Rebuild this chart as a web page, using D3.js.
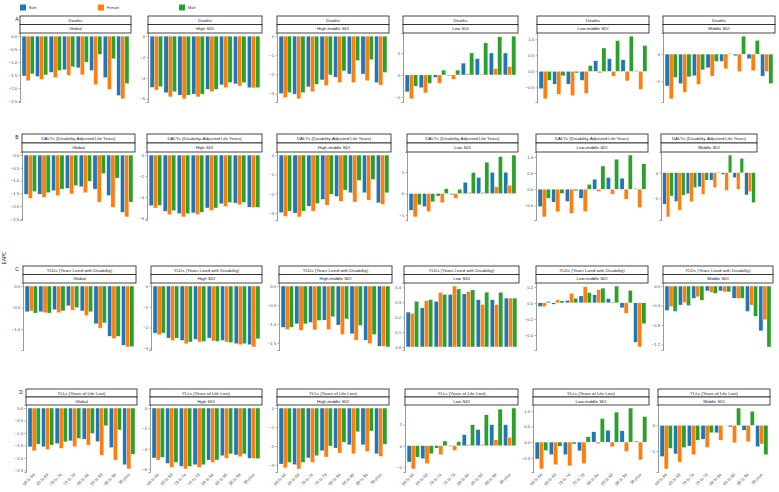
<!doctype html>
<meta charset="utf-8">
<title>EAPC by age group, sex and SDI</title>
<script src="https://cdn.jsdelivr.net/npm/d3@7"></script>
<style>
  body { margin: 0; background: #fff; }
  text { font-family: "Liberation Sans", Arial, sans-serif; }
</style>
<body>
<svg id="chart" width="779" height="492"></svg>
<script>

var ages = ["60 to 64", "65 to 69", "70 to 74", "75 to 79", "80 to 84", "85 to 89", "90 to 94", "95 plus"];
var sexes = ["Both", "Female", "Male"];
var colors = ["#1f77b4", "#ff7f0e", "#2ca02c"];
var regions = ["Global", "High SDI", "High-middle SDI", "Low SDI", "Low-middle SDI", "Middle SDI"];
var measures = ["Deaths", "DALYs (Disability-Adjusted Life Years)", "YLDs (Years Lived with Disability)", "YLLs (Years of Life Lost)"];
var tags = ["A", "B", "C", "D"];

// EAPC values: rows are Both, Female, Male; columns follow ages
var deathsGlobal = [[-1.53,-1.55,-1.39,-1.29,-1.22,-1.32,-1.59,-2.28],[-1.71,-1.66,-1.59,-1.51,-1.49,-1.86,-2.05,-2.41],[-1.45,-1.49,-1.32,-1.18,-1.00,-0.70,-0.87,-1.82]];
var deathsHigh = [[-4.92,-5.44,-5.67,-5.57,-5.11,-4.69,-4.59,-4.95],[-5.18,-5.84,-6.03,-5.84,-5.34,-4.95,-4.79,-4.97],[-4.85,-5.34,-5.67,-5.57,-5.11,-4.46,-4.46,-4.95]];
var deathsHighMid = [[-3.00,-3.03,-2.65,-2.29,-2.15,-1.98,-1.98,-2.43],[-3.21,-3.28,-2.91,-2.59,-2.42,-2.43,-2.33,-2.56],[-2.95,-2.95,-2.52,-2.03,-1.82,-1.27,-1.23,-1.90]];
var deathsLow = [[-0.77,-0.58,-0.11,-0.03,0.54,0.74,1.00,1.00],[-1.09,-0.82,-0.38,-0.20,0.05,0.04,0.29,0.38],[-0.51,-0.38,0.22,0.22,1.00,1.46,1.74,1.77]];
var deathsLowMid = [[-0.54,-0.40,-0.40,-0.28,0.33,0.39,0.36,0.02],[-0.86,-0.72,-0.76,-0.69,-0.05,-0.15,-0.30,-0.56],[-0.28,-0.14,-0.05,0.18,0.73,0.96,1.10,0.81]];
var deathsMiddle = [[-1.19,-1.10,-0.81,-0.51,-0.27,-0.06,-0.17,-0.82],[-1.67,-1.42,-1.13,-0.82,-0.55,-0.65,-0.62,-0.65],[-0.87,-0.85,-0.59,-0.27,0.02,0.67,0.51,-1.10]];

var dalysGlobal = [[-1.53,-1.53,-1.39,-1.30,-1.24,-1.33,-1.58,-2.24],[-1.69,-1.65,-1.58,-1.52,-1.47,-1.84,-2.04,-2.42],[-1.43,-1.47,-1.33,-1.19,-1.02,-0.72,-0.90,-1.84]];
var dalysHigh = [[-4.81,-5.34,-5.56,-5.50,-5.03,-4.63,-4.56,-4.95],[-5.03,-5.66,-5.88,-5.66,-5.25,-4.88,-4.72,-4.97],[-4.78,-5.28,-5.56,-5.44,-5.03,-4.50,-4.50,-4.97]];
var dalysHighMid = [[-2.98,-3.00,-2.64,-2.29,-2.14,-1.95,-1.95,-2.47],[-3.17,-3.20,-2.90,-2.59,-2.40,-2.43,-2.33,-2.55],[-2.90,-2.90,-2.50,-2.03,-1.81,-1.31,-1.26,-1.95]];
var dalysLow = [[-0.77,-0.60,-0.11,-0.05,0.52,0.74,0.98,0.98],[-1.08,-0.83,-0.42,-0.22,0.05,0.05,0.31,0.38],[-0.52,-0.38,0.22,0.20,0.97,1.45,1.71,1.78]];
var dalysLowMid = [[-0.54,-0.40,-0.38,-0.28,0.31,0.36,0.34,0.02],[-0.86,-0.70,-0.75,-0.69,-0.07,-0.15,-0.31,-0.57],[-0.28,-0.13,-0.05,0.15,0.72,0.93,1.06,0.79]];
var dalysMiddle = [[-1.23,-1.13,-0.82,-0.55,-0.29,-0.06,-0.19,-0.87],[-1.73,-1.47,-1.14,-0.84,-0.58,-0.69,-0.65,-0.74],[-0.91,-0.88,-0.58,-0.29,0.02,0.69,0.56,-1.17]];

var yldsGlobal = [[-0.60,-0.60,-0.55,-0.46,-0.58,-0.88,-1.17,-1.38],[-0.58,-0.62,-0.62,-0.56,-0.69,-0.98,-1.22,-1.42],[-0.63,-0.63,-0.58,-0.50,-0.60,-0.86,-1.17,-1.41]];
var yldsHigh = [[-2.27,-2.51,-2.62,-2.57,-2.51,-2.62,-2.78,-2.83],[-2.35,-2.63,-2.79,-2.70,-2.65,-2.70,-2.83,-2.94],[-2.27,-2.51,-2.70,-2.67,-2.67,-2.73,-2.78,-2.55]];
var yldsHighMid = [[-1.09,-1.00,-0.96,-0.90,-1.03,-1.26,-1.43,-1.59],[-1.15,-1.17,-1.16,-1.15,-1.28,-1.43,-1.52,-1.59],[-1.09,-1.00,-0.91,-0.81,-0.87,-1.04,-1.28,-1.61]];
var yldsLow = [[0.234,0.262,0.306,0.352,0.356,0.317,0.317,0.328],[0.225,0.310,0.365,0.409,0.372,0.284,0.284,0.328],[0.306,0.317,0.352,0.389,0.383,0.367,0.367,0.328]];
var yldsLowMid = [[-0.045,-0.016,0.030,0.086,0.100,0.053,-0.061,-0.49],[-0.045,0.037,0.12,0.20,0.163,0.012,-0.13,-0.55],[0.016,0.025,0.057,0.127,0.184,0.21,0.155,-0.26]];
var yldsMiddle = [[-0.50,-0.39,-0.25,-0.10,-0.10,-0.25,-0.52,-0.92],[-0.42,-0.34,-0.22,-0.13,-0.12,-0.25,-0.39,-0.69],[-0.52,-0.40,-0.29,-0.15,-0.12,-0.25,-0.62,-1.25]];

var yllsGlobal = [[-1.56,-1.56,-1.43,-1.32,-1.25,-1.35,-1.59,-2.28],[-1.72,-1.67,-1.62,-1.55,-1.49,-1.90,-2.09,-2.45],[-1.45,-1.49,-1.36,-1.22,-1.02,-0.71,-0.88,-1.86]];
var yllsHigh = [[-4.92,-5.45,-5.74,-5.58,-5.12,-4.69,-4.62,-4.95],[-5.12,-5.84,-6.00,-5.84,-5.35,-4.95,-4.79,-4.97],[-4.85,-5.35,-5.74,-5.58,-5.12,-4.52,-4.52,-4.97]];
var yllsHighMid = [[-2.95,-2.98,-2.63,-2.25,-2.11,-1.94,-1.94,-2.41],[-3.15,-3.21,-2.86,-2.58,-2.37,-2.41,-2.29,-2.55],[-2.86,-2.86,-2.51,-2.00,-1.80,-1.25,-1.21,-1.91]];
var yllsLow = [[-0.77,-0.61,-0.11,-0.03,0.52,0.76,0.99,0.99],[-1.10,-0.85,-0.43,-0.22,0.05,0.05,0.28,0.39],[-0.54,-0.38,0.22,0.19,0.99,1.46,1.73,1.78]];
var yllsLowMid = [[-0.54,-0.40,-0.40,-0.28,0.33,0.38,0.36,0.03],[-0.86,-0.72,-0.76,-0.69,-0.05,-0.15,-0.30,-0.57],[-0.27,-0.13,-0.06,0.17,0.75,0.96,1.09,0.82]];
var yllsMiddle = [[-1.22,-1.12,-0.81,-0.54,-0.29,-0.06,-0.19,-0.83],[-1.71,-1.44,-1.15,-0.86,-0.58,-0.68,-0.64,-0.73],[-0.90,-0.87,-0.58,-0.29,0.01,0.68,0.55,-1.15]];

// y tick labels for each panel
var ticksCommon = [[0,-0.5,-1,-1.5,-2,-2.5],[0,-2,-4,-6],[0,-1,-2,-3],[-1,0,1],[-0.5,0,0.5,1],[-1,0]];
var ticksYlds = [[0,-0.5,-1],[0,-1,-2,-3],[0,-0.5,-1,-1.5],[0,0.1,0.2,0.3,0.4],[-0.4,-0.2,0,0.2],[0,-0.4,-0.8,-1.2]];

var grid = [
  [deathsGlobal, deathsHigh, deathsHighMid, deathsLow, deathsLowMid, deathsMiddle],
  [dalysGlobal, dalysHigh, dalysHighMid, dalysLow, dalysLowMid, dalysMiddle],
  [yldsGlobal, yldsHigh, yldsHighMid, yldsLow, yldsLowMid, yldsMiddle],
  [yllsGlobal, yllsHigh, yllsHighMid, yllsLow, yllsLowMid, yllsMiddle]
];
var tickGrid = [ticksCommon, ticksCommon, ticksYlds, ticksCommon];

// layout: [strip top, plot top, plot bottom] per row, and [left, right] per panel
var rowBoxes = [[16, 33, 102], [134, 152, 220], [266, 283, 350], [389, 405, 472]];
var colEdges = [
  [[20,131],[148,262],[277,389],[403,518],[537,649],[663,775]],
  [[22,135],[147,262],[277,391],[407,518],[536,648],[661,757]],
  [[23,136],[151,262],[279,392],[404,519],[536,648],[663,773]],
  [[26,137],[150,262],[277,389],[405,518],[533,649],[658,770]]
];

var svg = d3.select("#chart");

// legend
var legend = svg.append("g").attr("class", "legend");
var legendX = [20, 98, 179];
sexes.forEach(function(s, i) {
  legend.append("rect").attr("x", legendX[i]).attr("y", 4.5).attr("width", 6).attr("height", 6).attr("fill", colors[i]);
  legend.append("text").attr("x", legendX[i] + 9).attr("y", 9).attr("font-size", 3.6).attr("fill", "#333").text(s);
});

// y title
svg.append("text")
  .attr("transform", "translate(6,258) rotate(-90)")
  .attr("text-anchor", "middle")
  .attr("font-size", 4.5)
  .attr("fill", "#222")
  .text("EAPC");

grid.forEach(function(row, r) {
  var box = rowBoxes[r];
  var stripMid = box[0] + (box[1] - box[0]) / 2;

  svg.append("text")
    .attr("x", r == 3 ? 21 : 17).attr("y", box[0] + 5)
    .attr("text-anchor", "middle")
    .attr("font-size", 5)
    .attr("fill", "#222")
    .text(tags[r]);

  row.forEach(function(vals, c) {
    var left = colEdges[r][c][0], right = colEdges[r][c][1];
    var g = svg.append("g");

    // strips
    g.append("rect").attr("x", left).attr("y", box[0]).attr("width", right - left).attr("height", stripMid - box[0])
      .attr("fill", "#fff").attr("stroke", "#1a1a1a").attr("stroke-width", 0.8);
    g.append("rect").attr("x", left).attr("y", stripMid).attr("width", right - left).attr("height", box[1] - stripMid)
      .attr("fill", "#fff").attr("stroke", "#1a1a1a").attr("stroke-width", 0.8);
    g.append("text").attr("x", (left + right) / 2).attr("y", (box[0] + stripMid) / 2 + 1.6)
      .attr("text-anchor", "middle").attr("font-size", 4.4).attr("fill", "#1a1a1a").text(measures[r]);
    g.append("text").attr("x", (left + right) / 2).attr("y", (stripMid + box[1]) / 2 + 1.6)
      .attr("text-anchor", "middle").attr("font-size", 4.4).attr("fill", "#1a1a1a").text(regions[c]);

    // scales
    var all = d3.merge(vals).concat([0]);
    var lo = d3.min(all), hi = d3.max(all), pad = (hi - lo) * 0.05;
    var y = d3.scaleLinear().domain([lo - pad, hi + pad]).range([box[2], box[1]]);
    var x0 = d3.scaleBand().domain(ages).range([left, right]).paddingInner(0.1).paddingOuter(0.15);
    var x1 = d3.scaleBand().domain(sexes).range([0, x0.bandwidth()]);

    // bars
    sexes.forEach(function(s, k) {
      g.selectAll(null)
        .data(vals[k])
        .enter().append("rect")
        .attr("x", function(d, i) { return x0(ages[i]) + x1(s); })
        .attr("width", x1.bandwidth())
        .attr("y", function(d) { return y(Math.max(0, d)); })
        .attr("height", function(d) { return Math.abs(y(d) - y(0)); })
        .attr("fill", colors[k])
        .attr("stroke", "#fff")
        .attr("stroke-width", 0.3);
    });

    // y axis
    var ticks = tickGrid[r][c];
    var decimals = ticks.some(function(t) { return t % 1 != 0; });
    var yAxis = d3.axisLeft(y).tickValues(ticks).tickSize(1.5).tickPadding(1.5)
      .tickFormat(decimals ? d3.format(".1f") : d3.format("d"));
    var ay = g.append("g").attr("transform", "translate(" + left + ",0)").call(yAxis);
    ay.select(".domain").attr("stroke", "#555").attr("stroke-width", 0.6);
    ay.selectAll(".tick line").attr("stroke", "#555").attr("stroke-width", 0.5);
    ay.selectAll(".tick text").attr("font-size", 4.2).attr("fill", "#4d4d4d").attr("font-family", "Liberation Sans, Arial, sans-serif");

    // x labels on bottom row only
    if (r == 3) {
      g.selectAll(null)
        .data(ages)
        .enter().append("text")
        .attr("transform", function(d) {
          return "translate(" + (x0(d) + x0.bandwidth() / 2 + 1) + "," + (box[2] + 3) + ") rotate(-45)";
        })
        .attr("text-anchor", "end")
        .attr("font-size", 4.2)
        .attr("fill", "#4d4d4d")
        .text(function(d) { return d; });
    }
  });
});

</script>
</body>
